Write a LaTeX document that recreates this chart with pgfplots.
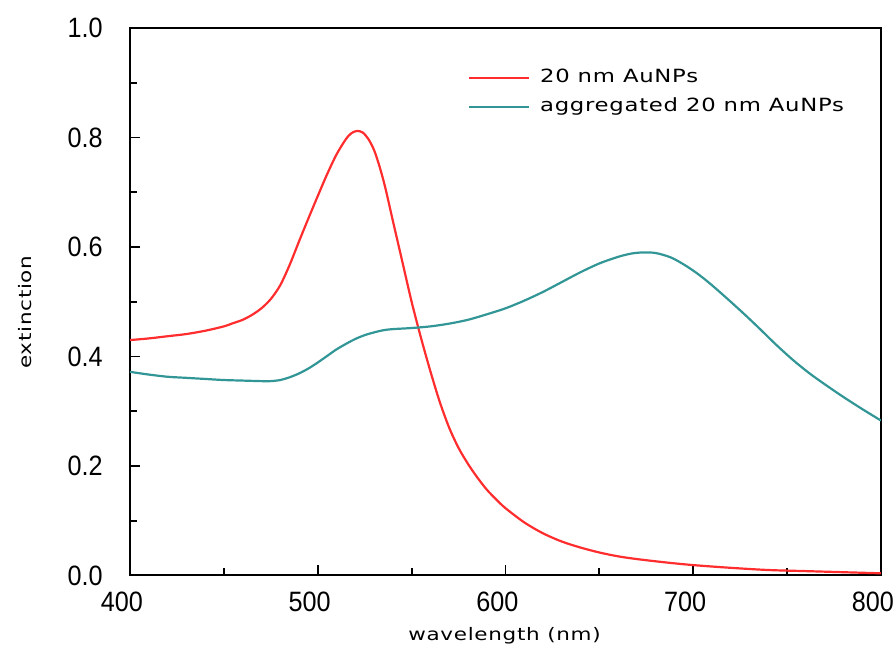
\documentclass[border=0pt]{standalone}
\usepackage{fontspec}
\setmainfont{DejaVu Sans}
\newfontfamily\tickfont{Liberation Sans}[FakeStretch=0.9]
\newfontfamily\labfont{DejaVu Sans}[FakeStretch=1.25,LetterSpace=4]
\usepackage{pgfplots}
\usepackage{pgfplotstable}
\pgfplotsset{compat=1.18}
\definecolor{myred}{RGB}{255,45,45}
\definecolor{myteal}{RGB}{50,150,150}

\pgfplotstableread{
x y
400 0.430
410 0.433
420 0.437
430 0.441
440 0.447
450 0.455
455 0.461
460 0.467
465 0.476
470 0.488
475 0.505
480 0.530
485 0.567
490 0.610
495 0.652
500 0.693
505 0.733
510 0.769
515 0.797
518 0.808
521 0.812
524 0.809
527 0.797
530 0.777
533 0.746
536 0.708
540 0.648
545 0.574
550 0.500
555 0.434
560 0.373
565 0.317
570 0.270
575 0.233
580 0.204
585 0.179
590 0.157
595 0.139
600 0.123
610 0.097
620 0.077
630 0.062
640 0.051
650 0.042
660 0.035
670 0.030
685 0.024
700 0.019
720 0.014
740 0.010
760 0.008
780 0.006
800 0.004
}\redtab

\pgfplotstableread{
x y
400 0.372
410 0.367
420 0.363
430 0.361
440 0.359
450 0.357
460 0.356
470 0.355
475 0.355
480 0.357
485 0.362
490 0.369
495 0.378
500 0.389
505 0.401
510 0.413
515 0.423
520 0.432
525 0.439
530 0.444
535 0.448
540 0.450
550 0.452
560 0.455
570 0.460
580 0.467
590 0.477
600 0.488
610 0.502
620 0.518
630 0.536
640 0.554
650 0.570
660 0.582
667 0.588
673 0.590
680 0.589
688 0.581
695 0.568
702 0.552
709 0.533
718 0.506
727 0.478
735 0.452
744 0.422
753 0.394
762 0.369
771 0.347
780 0.326
790 0.304
800 0.283
}\tealtab

\begin{document}
\begin{tikzpicture}
\begin{axis}[
  at={(0,0)}, anchor=south west,
  width=375.5pt, height=273.75pt, scale only axis,
  xmin=400, xmax=800, ymin=0, ymax=1,
  axis line style={line width=1pt},
  xtick={400,500,600,700,800}, minor xtick={450,550,650,750},
  ytick={0,0.2,0.4,0.6,0.8,1}, minor ytick={0.1,0.3,0.5,0.7,0.9},
  tick align=inside, tick pos=left,
  major tick length=5pt, minor tick length=3.5pt,
  tick style={black, line width=0.9pt},
  /pgf/number format/assume math mode=true,
  yticklabel style={/pgf/number format/fixed, /pgf/number format/fixed zerofill,
    /pgf/number format/precision=1,
    font=\tickfont\fontsize{14}{16}\selectfont, anchor=east, inner sep=0pt, xshift=-13.5pt},
  xticklabel style={font=\tickfont\fontsize{14}{16}\selectfont, anchor=north,
    inner sep=0pt, yshift=-8pt, xshift=-4pt},
  xlabel={wavelength (nm)},
  ylabel={extinction},
  xlabel style={font=\labfont\fontsize{8.6}{10}\selectfont, at={(axis description cs:0.4987,-0.1105)}, anchor=center, inner sep=0pt},
  ylabel style={font=\labfont\fontsize{8.6}{10}\selectfont, at={(axis description cs:-0.1398,0.481)}, anchor=center, inner sep=0pt},
  legend style={draw=none, fill=none, inner sep=0pt, outer sep=0pt,
    at={(axis description cs:0.45,0.8827)}, anchor=west,
    font=\labfont\fontsize{9.1}{11}\selectfont,
    row sep=5pt, column sep=5pt,
    nodes={inner sep=0pt, text depth=2.5pt, text height=7pt}},
  legend cell align=left,
  legend image code/.code={\draw[#1] (0pt,0pt) -- (30pt,0pt);},
]
\addplot[myred, line width=1.1pt, smooth, tension=0.5] table[x=x,y=y] {\redtab};
\addlegendentry{20 nm AuNPs}
\addplot[myteal, line width=1.1pt, smooth, tension=0.5] table[x=x,y=y] {\tealtab};
\addlegendentry{aggregated 20 nm AuNPs}
\end{axis}
\pgfresetboundingbox
\path[use as bounding box] (-65pt,-38.75pt) rectangle (383pt,287.75pt);
\end{tikzpicture}
\end{document}
